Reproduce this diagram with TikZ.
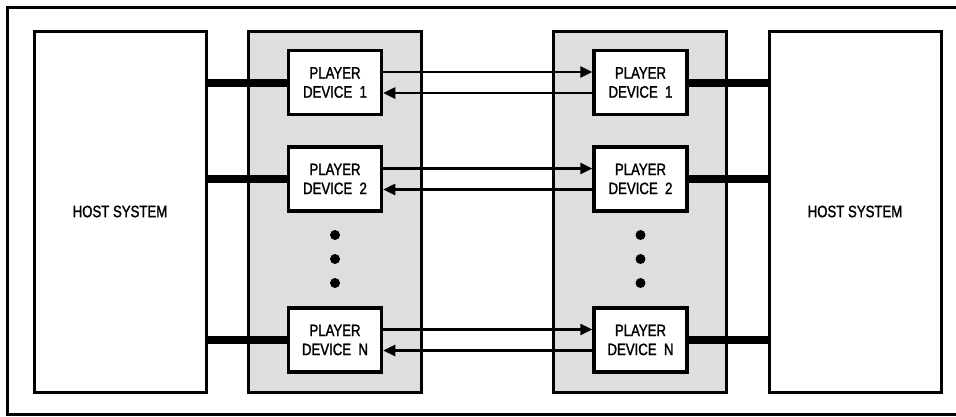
\documentclass[tikz,border=0pt]{standalone}
\usepackage{fontspec}
\setmainfont{Liberation Sans}[FakeStretch=0.8,FakeBold=1.5]
\usetikzlibrary{arrows.meta}
\begin{document}
\begin{tikzpicture}[x=1pt,y=-1pt,
  hostbox/.style={draw, line width=3pt, minimum width=172pt, minimum height=361pt, inner sep=0pt, font=\fontsize{16.5}{19}\selectfont},
  column/.style={draw, line width=3pt, fill=black!13, minimum width=173pt, minimum height=361pt, inner sep=0pt},
  playerbox/.style={draw, line width=3.5pt, fill=white, minimum width=93pt, minimum height=64pt, inner sep=0pt, align=center, font=\fontsize{16.5}{19}\selectfont},
  bus/.style={line width=8pt},
  sig/.style={line width=2.5pt, -{Triangle[length=12pt,width=11pt]}},
  dotmark/.style={circle, fill=black, minimum size=10pt, inner sep=0pt}
]
\useasboundingbox (0,0) rectangle (956,416);
% outer frame (right side beyond the picture)
\draw[line width=3pt] (970,7.5) -- (7.5,7.5) -- (7.5,414.5) -- (970,414.5);

\node[hostbox] (hostL) at (120,211.5) {HOST SYSTEM};
\node[hostbox] (hostR) at (855,211.5) {HOST SYSTEM};
\node[column] (colL) at (334.5,211.5) {};
\node[column] (colR) at (639.5,211.5) {};

\node[playerbox] (pl1) at (335,82.5) {PLAYER\\DEVICE\ \ 1};
\node[playerbox] (pl2) at (335,179) {PLAYER\\DEVICE\ \ 2};
\node[playerbox] (plN) at (335,340) {PLAYER\\DEVICE\ \ N};
\node[playerbox] (pr1) at (640.5,82.5) {PLAYER\\DEVICE\ \ 1};
\node[playerbox] (pr2) at (640.5,179) {PLAYER\\DEVICE\ \ 2};
\node[playerbox] (prN) at (640.5,340) {PLAYER\\DEVICE\ \ N};

\foreach \y/\n in {235/1,259/2,283/3} {
  \node[dotmark] (dl\n) at (335,\y) {};
  \node[dotmark] (dr\n) at (640.5,\y) {};
}

% buses
\foreach \p in {pl1,pl2,plN} {
  \draw[bus] (hostL.east |- \p.west) -- (\p.west);
}
\foreach \p in {pr1,pr2,prN} {
  \draw[bus] (\p.east) -- (hostR.west |- \p.east);
}

% signals (yshift is in page direction: positive = up)
\foreach \a/\b in {pl1/pr1,pl2/pr2,plN/prN} {
  \draw[sig] ([yshift=10.5pt]\a.east) -- ([yshift=10.5pt]\b.west);
  \draw[sig] ([yshift=-10.5pt]\b.west) -- ([yshift=-10.5pt]\a.east);
}
\end{tikzpicture}
\end{document}
